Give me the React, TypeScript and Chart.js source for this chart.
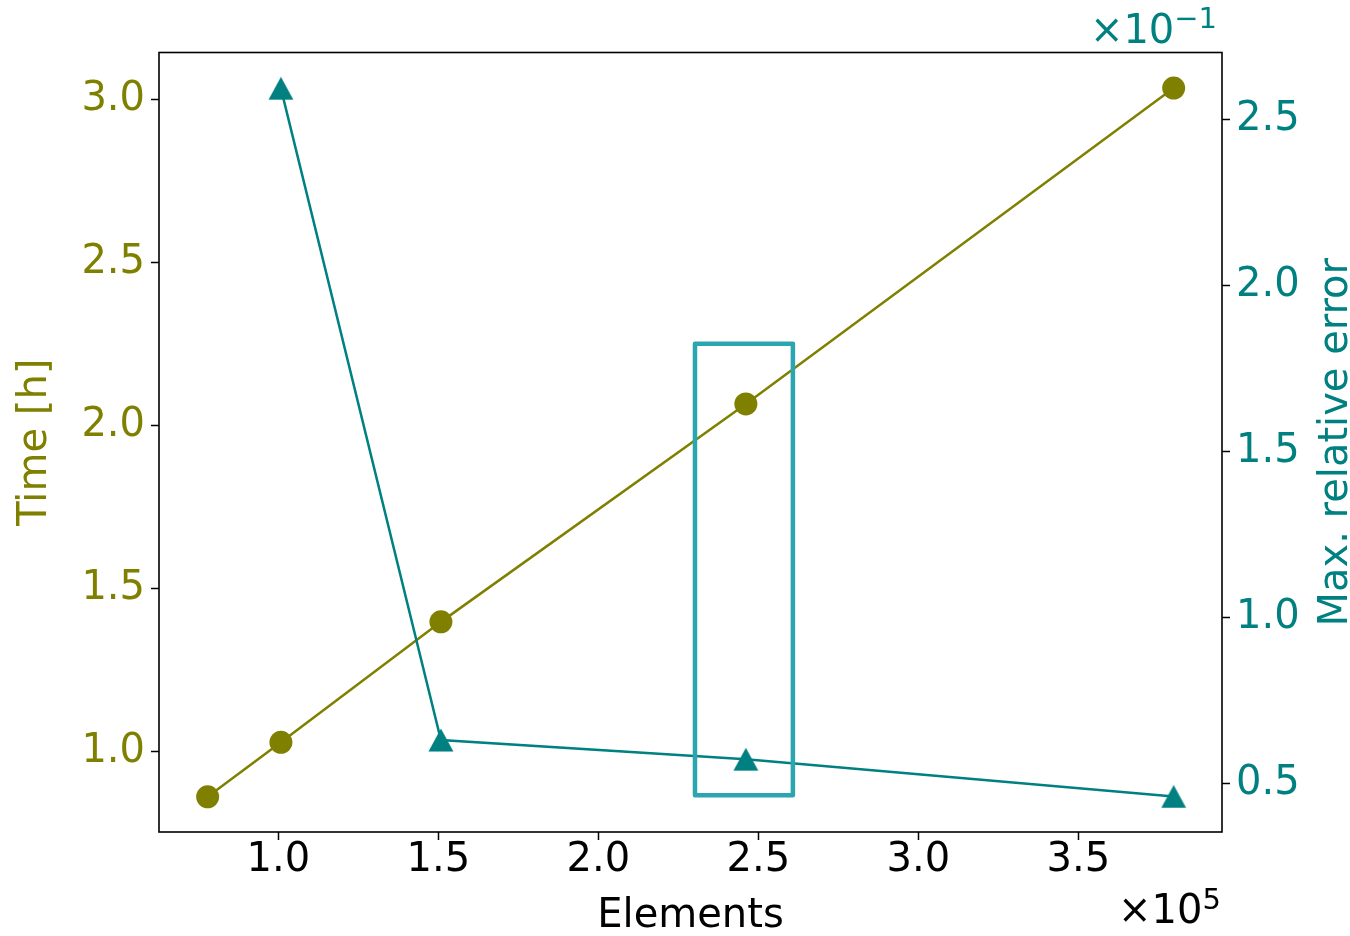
import React, { useEffect, useRef } from 'react';
import { Chart, registerables } from 'chart.js';

Chart.register(...registerables);

// ---- data ----
const elements = [77900, 100800, 150800, 246100, 379800];
const timeHours = [0.862, 1.029, 1.398, 2.066, 3.034];
const errorElements = [100800, 150800, 246100, 379800];
const maxRelError = [0.2593, 0.063, 0.0572, 0.046];

const xTicks = [100000, 150000, 200000, 250000, 300000, 350000];
const timeTicks = [1.0, 1.5, 2.0, 2.5, 3.0];
const errorTicks = [0.05, 0.1, 0.15, 0.2, 0.25];

const xRange = [62700, 394900];
const timeRange = [0.754, 3.143];
const errorRange = [0.0353, 0.2701];

const highlightX = [230200, 260800];
const highlightTime = [0.867, 2.25];

const OLIVE = '#808000';
const TEAL = '#008080';
const HIGHLIGHT = '#2ba6b1';
const FONT = '"DejaVu Sans", sans-serif';

function makeTriangle(color: string): HTMLCanvasElement {
  const c = document.createElement('canvas');
  c.width = 26;
  c.height = 24;
  const g = c.getContext('2d')!;
  g.fillStyle = color;
  g.beginPath();
  g.moveTo(13, 0.5);
  g.lineTo(25.5, 23.5);
  g.lineTo(0.5, 23.5);
  g.closePath();
  g.fill();
  return c;
}

const overlayPlugin = {
  id: 'overlay',
  afterDatasetsDraw(chart: any) {
    const { ctx, chartArea: a, scales } = chart;
    ctx.save();
    // highlight box
    const x0 = scales.x.getPixelForValue(highlightX[0]);
    const x1 = scales.x.getPixelForValue(highlightX[1]);
    const y0 = scales.y.getPixelForValue(highlightTime[1]);
    const y1 = scales.y.getPixelForValue(highlightTime[0]);
    ctx.strokeStyle = HIGHLIGHT;
    ctx.lineWidth = 4.5;
    ctx.lineJoin = 'round';
    ctx.strokeRect(x0, y0, x1 - x0, y1 - y0);
    // frame
    ctx.strokeStyle = '#000';
    ctx.lineWidth = 1.6;
    ctx.lineJoin = 'miter';
    ctx.strokeRect(a.left, a.top, a.right - a.left, a.bottom - a.top);

    // x multiplier
    ctx.fillStyle = '#000';
    ctx.textBaseline = 'alphabetic';
    ctx.font = `40px ${FONT}`;
    ctx.textAlign = 'right';
    ctx.fillText('×10', 1202.5, 923.3);
    ctx.font = `29px ${FONT}`;
    ctx.textAlign = 'left';
    ctx.fillText('5', 1202.5, 909.3);

    // right y multiplier
    ctx.fillStyle = TEAL;
    ctx.font = `40px ${FONT}`;
    ctx.textAlign = 'right';
    ctx.fillText('×10', 1174.3, 43.3);
    ctx.font = `29px ${FONT}`;
    ctx.textAlign = 'left';
    ctx.fillText('−1', 1174.3, 28.3);

    // right axis title
    ctx.save();
    ctx.translate(1347, (a.top + a.bottom) / 2);
    ctx.rotate(-Math.PI / 2);
    ctx.font = `40px ${FONT}`;
    ctx.textAlign = 'center';
    ctx.textBaseline = 'alphabetic';
    ctx.fillStyle = TEAL;
    ctx.fillText('Max. relative error', 0, 0);
    ctx.restore();

    ctx.restore();
  },
};

export default function App() {
  const ref = useRef<HTMLCanvasElement | null>(null);

  useEffect(() => {
    if (!ref.current) return;
    const tri = makeTriangle(TEAL);
    const tickFont = { family: FONT, size: 40, lineHeight: 1 };
    const chart = new Chart(ref.current, {
      type: 'line',
      data: {
        datasets: [
          {
            label: 'Max. relative error',
            data: errorElements.map((x, i) => ({ x, y: maxRelError[i] })),
            yAxisID: 'y1',
            borderColor: TEAL,
            backgroundColor: TEAL,
            borderWidth: 2.5,
            pointStyle: tri as any,
            pointRadius: 12,
            pointBorderWidth: 0,
            order: 0,
          },
          {
            label: 'Time [h]',
            data: elements.map((x, i) => ({ x, y: timeHours[i] })),
            yAxisID: 'y',
            borderColor: OLIVE,
            backgroundColor: OLIVE,
            borderWidth: 2.5,
            pointStyle: 'circle',
            pointRadius: 11.5,
            pointBorderWidth: 0,
            pointBackgroundColor: OLIVE,
            order: 1,
          },
        ],
      },
      options: {
        responsive: false,
        animation: false,
        events: [],
        layout: { padding: { top: 52.5, left: 0, right: 0, bottom: 0 } },
        plugins: {
          legend: { display: false },
          tooltip: { enabled: false },
        },
        elements: { line: { tension: 0 } },
        scales: {
          x: {
            type: 'linear',
            position: 'bottom',
            min: xRange[0],
            max: xRange[1],
            afterBuildTicks: (s: any) => {
              s.ticks = xTicks.map((v) => ({ value: v }));
            },
            afterFit: (s: any) => {
              s.height = 104;
            },
            ticks: {
              callback: (v: any) => (Number(v) / 1e5).toFixed(1),
              font: tickFont,
              color: '#000',
              padding: 1,
              maxRotation: 0,
              autoSkip: false,
            },
            grid: {
              drawOnChartArea: false,
              drawTicks: true,
              tickLength: 8,
              tickWidth: 1.5,
              tickColor: '#000',
            },
            border: { display: false },
            title: {
              display: true,
              text: 'Elements',
              color: '#000',
              font: { family: FONT, size: 40, lineHeight: 0.9 },
              padding: { top: 0, bottom: 1 },
            },
          },
          y: {
            type: 'linear',
            position: 'left',
            min: timeRange[0],
            max: timeRange[1],
            afterBuildTicks: (s: any) => {
              s.ticks = timeTicks.map((v) => ({ value: v }));
            },
            afterFit: (s: any) => {
              s.width = 159;
            },
            ticks: {
              callback: (v: any) => Number(v).toFixed(1),
              font: tickFont,
              color: OLIVE,
              padding: 6,
              autoSkip: false,
            },
            grid: {
              drawOnChartArea: false,
              drawTicks: true,
              tickLength: 8,
              tickWidth: 1.5,
              tickColor: '#000',
            },
            border: { display: false },
            title: {
              display: true,
              text: 'Time [h]',
              color: OLIVE,
              font: { family: FONT, size: 40, lineHeight: 0.9 },
              padding: { top: 18, bottom: 0 },
            },
          },
          y1: {
            type: 'linear',
            position: 'right',
            min: errorRange[0],
            max: errorRange[1],
            afterBuildTicks: (s: any) => {
              s.ticks = errorTicks.map((v) => ({ value: v }));
            },
            afterFit: (s: any) => {
              s.width = 128;
            },
            ticks: {
              callback: (v: any) => (Number(v) * 10).toFixed(1),
              font: tickFont,
              color: TEAL,
              padding: 6,
              autoSkip: false,
            },
            grid: {
              drawOnChartArea: false,
              drawTicks: true,
              tickLength: 8,
              tickWidth: 1.5,
              tickColor: '#000',
            },
            border: { display: false },
            title: { display: false },
          },
        },
      } as any,
      plugins: [overlayPlugin],
    });
    return () => chart.destroy();
  }, []);

  return (
    <div style={{ position: 'fixed', left: 0, top: 0, width: 1350, height: 936, background: '#fff' }}>
      <canvas ref={ref} width={1350} height={936} style={{ display: 'block' }} />
    </div>
  );
}
